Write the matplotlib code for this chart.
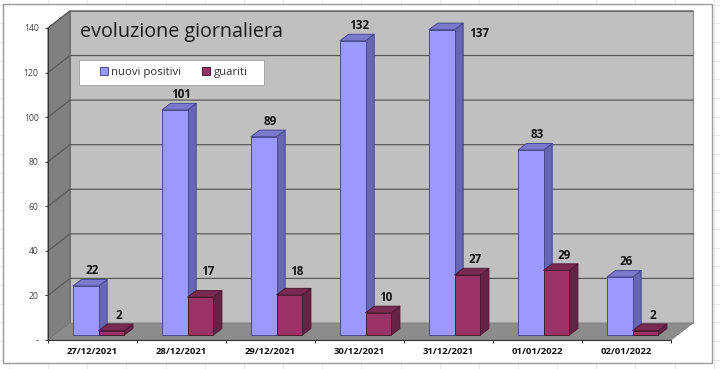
#!/usr/bin/env python3
# grafico 3D stile Excel, proiezione obliqua fatta a mano
import numpy as np
import matplotlib
matplotlib.use('Agg')
import matplotlib.pyplot as plt
from matplotlib.patches import Polygon, Rectangle
from matplotlib.lines import Line2D

dates = ['27/12/2021', '28/12/2021', '29/12/2021', '30/12/2021',
         '31/12/2021', '01/01/2022', '02/01/2022']
nuovi_positivi = [22, 101, 89, 132, 137, 83, 26]
guariti = [2, 17, 18, 10, 27, 29, 2]
y_ticks = [0, 20, 40, 60, 80, 100, 120, 140]
y_labels = ['-', '20', '40', '60', '80', '100', '120', '140']

W, H = 720, 369
X0, Y0 = 48, 340          # origine del piano frontale, pixel
PX_CAT = 89.0             # pixel per categoria
PX_VAL = 2.229            # pixel per unita


def fx(px):
    return (px - X0) / PX_CAT


def fy(py):
    return (Y0 - py) / PX_VAL


# profondita della scatola e delle barre, in unita dati
DEPTH_X, DEPTH_Y = 22 / PX_CAT, 17 / PX_VAL
BAR_DX, BAR_DY = 8.5 / PX_CAT, 6.5 / PX_VAL
BASE_DX, BASE_DY = 6 / PX_CAT, 5 / PX_VAL
BAR_W = 25.7 / PX_CAT
BAR_GAP = 19 / PX_CAT

fig = plt.figure(figsize=(W / 100, H / 100), dpi=100, facecolor='white')
ax = fig.add_axes([0, 0, 1, 1])
ax.set_xlim(fx(0), fx(W))
ax.set_ylim(fy(H), fy(0))
ax.patch.set_visible(False)

# griglia del foglio di calcolo dietro al grafico
for px in np.arange(9, W, 39.15):
    fig.add_artist(Line2D([px / W] * 2, [0, 1], color='#e8e8e8', lw=0.7, zorder=-2))
for py in np.arange(4.5, H, 18.7):
    fig.add_artist(Line2D([0, 1], [1 - py / H] * 2, color='#e8e8e8', lw=0.7, zorder=-2))
fig.add_artist(Rectangle((3 / W, 1 - 363 / H), 709 / W, 359 / H, transform=fig.transFigure,
                         fc='white', ec='#9a9a9a', lw=1.0, zorder=-1))

n = len(dates)
top = y_ticks[-1]

# pareti
ax.add_patch(Polygon([(DEPTH_X, DEPTH_Y), (n + DEPTH_X, DEPTH_Y),
                      (n + DEPTH_X, top + DEPTH_Y), (DEPTH_X, top + DEPTH_Y)],
                     fc='#c0c0c0', ec='#8a8a8a', lw=0.8, zorder=1))
ax.add_patch(Polygon([(0, 0), (DEPTH_X, DEPTH_Y), (DEPTH_X, top + DEPTH_Y), (0, top)],
                     fc='#808080', ec='#666666', lw=0.8, zorder=1))
ax.add_patch(Polygon([(0, 0), (n, 0), (n + DEPTH_X, DEPTH_Y), (DEPTH_X, DEPTH_Y)],
                     fc='#8c8c8c', ec='#808080', lw=0.6, zorder=1))

# griglia orizzontale
for v in y_ticks[1:]:
    ax.plot([0, DEPTH_X, n + DEPTH_X], [v, v + DEPTH_Y, v + DEPTH_Y],
            color='#5a5a5a', lw=0.9, zorder=2)


def bar3d(left, value, front, top_c, side_c, edge, label=None):
    x0, x1 = left, left + BAR_W
    y0, y1 = BASE_DY, BASE_DY + value
    kw = dict(ec=edge, lw=0.7, zorder=3, joinstyle='round')
    ax.add_patch(Polygon([(x1, y0), (x1 + BAR_DX, y0 + BAR_DY),
                          (x1 + BAR_DX, y1 + BAR_DY), (x1, y1)], fc=side_c, **kw))
    ax.add_patch(Polygon([(x0, y1), (x1, y1), (x1 + BAR_DX, y1 + BAR_DY),
                          (x0 + BAR_DX, y1 + BAR_DY)], fc=top_c, **kw))
    return ax.add_patch(Polygon([(x0, y0), (x1, y0), (x1, y1), (x0, y1)],
                                fc=front, label=label, **kw))


def value_label(left, value, dx=0.0, dy=0.0):
    ax.annotate(str(value),
                xy=(left + BAR_W / 2 + BAR_DX, BASE_DY + value + BAR_DY),
                xytext=(-1 + dx, 8.7 + dy), textcoords='offset pixels',
                ha='center', va='center', fontsize=8.4, fontweight='bold',
                family='Open Sans', color='#111111', zorder=6, annotation_clip=False)


handles = []
for i in range(n):
    left = i + BASE_DX + BAR_GAP
    h1 = bar3d(left, nuovi_positivi[i], '#9999ff', '#7a7acc', '#6666b3', '#4a4a90',
               'nuovi positivi')
    h2 = bar3d(left + BAR_W, guariti[i], '#993366', '#7a2952', '#662244', '#4d1a33',
               'guariti')
    if i == 0:
        handles = [h1, h2]
    # il 137 non ci sta sopra la barra: Excel lo sposta a destra
    if nuovi_positivi[i] == 137:
        value_label(left, nuovi_positivi[i], dx=29.5, dy=-19.5)
    else:
        value_label(left, nuovi_positivi[i], dx=-1)
    # 17 e 18 stanno piu' in alto, sopra la griglia
    if guariti[i] == 17:
        value_label(left + BAR_W, guariti[i], dy=10)
    elif guariti[i] == 18:
        value_label(left + BAR_W, guariti[i], dy=8)
    else:
        value_label(left + BAR_W, guariti[i])

# assi frontali
for name in ['top', 'right']:
    ax.spines[name].set_visible(False)
ax.spines['left'].set_position(('data', 0))
ax.spines['left'].set_bounds(0, top)
ax.spines['bottom'].set_position(('data', 0))
ax.spines['bottom'].set_bounds(0, n)
for name in ['left', 'bottom']:
    ax.spines[name].set_color('#333333')
    ax.spines[name].set_linewidth(0.8)
    ax.spines[name].set_zorder(4)

ax.set_yticks(y_ticks)
ax.set_yticklabels(y_labels, fontsize=6.2, family='Open Sans', color='#404040')
ax.tick_params(axis='y', length=2.5, width=0.7, color='#333333', pad=4.3)

ax.set_xticks(np.arange(n + 1))
ax.set_xticklabels([])
ax.set_xticks(np.arange(n) + 0.5, minor=True)
ax.set_xticklabels(dates, minor=True, fontsize=6.8, fontweight='bold',
                   family='Open Sans', color='#111111')
ax.tick_params(axis='x', which='major', length=2.5, width=0.7, color='#333333')
ax.tick_params(axis='x', which='minor', length=0, pad=5)

ax.text(fx(80), fy(32), 'evoluzione giornaliera', fontsize=14.2, family='Open Sans',
        color='#1a1a1a', ha='left', va='center', zorder=6)

# riquadro della legenda separato: il padding di Excel e' diverso ai lati
ax.add_patch(Rectangle((fx(79), fy(84.5)), 185 / PX_CAT, 24.5 / PX_VAL,
                       fc='white', ec='#a8a8a8', lw=0.7, zorder=5))
leg = ax.legend(handles=handles, loc='center left',
                bbox_to_anchor=(100 / W, 1 - 72 / H), bbox_transform=fig.transFigure,
                ncol=2, frameon=False,
                prop={'family': 'Open Sans', 'size': 8.2}, handlelength=0.7, handleheight=0.7,
                handletextpad=0.3, columnspacing=1.85, borderpad=0, borderaxespad=0,
                labelcolor='#333333')
leg.set_zorder(6)

fig.savefig('out.png', dpi=100)
